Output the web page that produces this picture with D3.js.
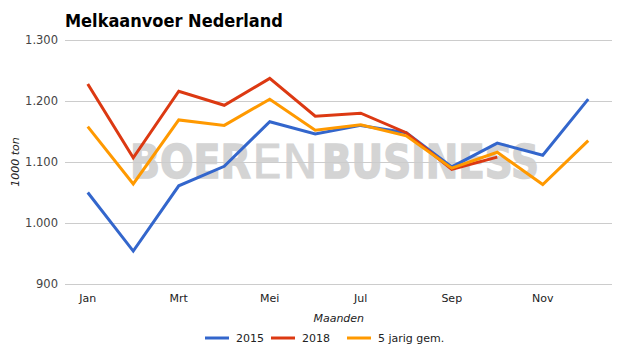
<!DOCTYPE html>
<html>
<head>
<meta charset="utf-8">
<script src="https://cdn.jsdelivr.net/npm/d3@7"></script>
<style>
  body { margin: 0; background: #fff; }
  svg { font-family: "DejaVu Sans", Verdana, sans-serif; }
</style>
</head>
<body>
<svg id="chart"></svg>
<script>
const width = 625, height = 355;

// data
const months = ["Jan", "Feb", "Mrt", "Apr", "Mei", "Jun", "Jul", "Aug", "Sep", "Okt", "Nov", "Dec"];
const tickMonths = ["Jan", "Mrt", "Mei", "Jul", "Sep", "Nov"];
const yTicks = [900, 1000, 1100, 1200, 1300];
const values2015 = [1050, 954, 1061, 1093, 1166, 1146, 1160, 1148, 1092, 1131, 1111, 1203];
const values2018 = [1228, 1107, 1216, 1193, 1237, 1175, 1180, 1148, 1088, 1108];
const valuesAvg = [1158, 1064, 1169, 1160, 1203, 1152, 1161, 1143, 1090, 1116, 1063, 1135];

const series = [
    { name: "2015", color: "#3366cc", values: values2015 },
    { name: "2018", color: "#dc3912", values: values2018 },
    { name: "5 jarig gem.", color: "#ff9900", values: valuesAvg }
];

const svg = d3.select("#chart")
    .attr("width", width)
    .attr("height", height);

const x = d3.scalePoint()
    .domain(months)
    .range([65, 611])
    .padding(0.5);

const y = d3.scaleLinear()
    .domain([900, 1300])
    .range([284, 40]);

const fmt = d3.formatLocale({ decimal: ",", thousands: ".", grouping: [3], currency: ["€", ""] }).format(",");

// titel
svg.append("text")
    .attr("x", 65)
    .attr("y", 27)
    .attr("font-family", "'DejaVu Sans Condensed', 'DejaVu Sans', sans-serif")
    .attr("font-size", 18)
    .attr("font-weight", "bold")
    .attr("fill", "#000")
    .text("Melkaanvoer Nederland");

// watermerk (drie delen), horizontaal geschaald tot de gewenste breedte
const wmParts = [
    { t: "BOER", x: 130, w: 121, bold: true },
    { t: "EN", x: 252, w: 66, bold: false },
    { t: "BUSINESS", x: 322, w: 217, bold: true }
];
svg.append("g")
    .selectAll("text")
    .data(wmParts)
    .join("text")
    .attr("font-size", 46)
    .attr("font-weight", d => d.bold ? "bold" : "normal")
    .attr("fill", "#d4d4d4")
    .attr("stroke", "#d4d4d4")
    .attr("stroke-width", d => d.bold ? 1.5 : 0.8)
    .text(d => d.t)
    .attr("transform", function(d) {
        const natural = this.getComputedTextLength();
        return `translate(${d.x},178) scale(${d.w / natural},1)`;
    });

// rasterlijnen
svg.append("g")
    .selectAll("line")
    .data(yTicks)
    .join("line")
    .attr("x1", 65)
    .attr("x2", 612)
    .attr("y1", d => y(d) + 0.5)
    .attr("y2", d => y(d) + 0.5)
    .attr("stroke", "#cccccc")
    .attr("stroke-width", 1);

// y labels
svg.append("g")
    .selectAll("text")
    .data(yTicks)
    .join("text")
    .attr("x", 58)
    .attr("y", d => y(d) + 4)
    .attr("text-anchor", "end")
    .attr("font-size", 11.5)
    .attr("fill", "#444")
    .text(d => fmt(d));

// x labels
svg.append("g")
    .selectAll("text")
    .data(tickMonths)
    .join("text")
    .attr("x", d => x(d))
    .attr("y", 302)
    .attr("text-anchor", "middle")
    .attr("font-size", 11)
    .attr("fill", "#222")
    .text(d => d);

// as titels
svg.append("text")
    .attr("x", x("Jul") - 22)
    .attr("y", 322)
    .attr("text-anchor", "middle")
    .attr("font-size", 11)
    .attr("font-style", "italic")
    .attr("fill", "#222")
    .text("Maanden");

svg.append("text")
    .attr("transform", `translate(19,${y(1100)}) rotate(-90)`)
    .attr("text-anchor", "middle")
    .attr("font-size", 11)
    .attr("font-style", "italic")
    .attr("fill", "#222")
    .text("1000 ton");

// lijnen
const line = d3.line()
    .x((d, i) => x(months[i]))
    .y(d => y(d));

svg.append("g")
    .selectAll("path")
    .data(series)
    .join("path")
    .attr("d", d => line(d.values))
    .attr("fill", "none")
    .attr("stroke", d => d.color)
    .attr("stroke-width", 3)
    .attr("stroke-linejoin", "miter");

// legenda
const legendX = [205, 271, 347];
const legend = svg.append("g")
    .selectAll("g")
    .data(series)
    .join("g")
    .attr("transform", (d, i) => `translate(${legendX[i]},338)`);

legend.append("line")
    .attr("x1", 0)
    .attr("x2", 24)
    .attr("stroke", d => d.color)
    .attr("stroke-width", 3);

legend.append("text")
    .attr("x", 31)
    .attr("y", 4)
    .attr("font-size", 11)
    .attr("fill", "#222")
    .text(d => d.name);
</script>
</body>
</html>
